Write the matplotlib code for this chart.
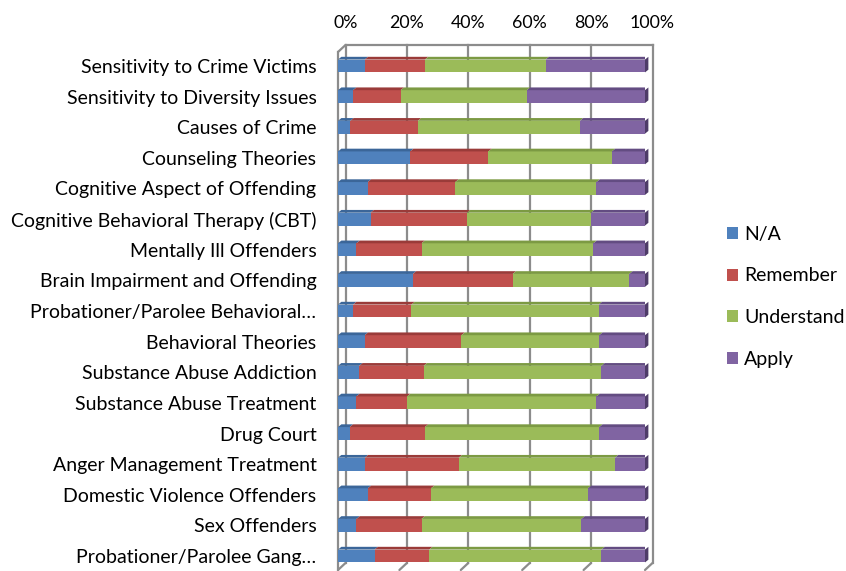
import matplotlib
matplotlib.use("Agg")
import matplotlib.pyplot as plt
from matplotlib.patches import Patch, Polygon
from matplotlib.transforms import offset_copy

plt.rcParams["font.family"] = ["Lato", "DejaVu Sans"]

# ---------------- Data ----------------
categories = [
    "Sensitivity to Crime Victims",
    "Sensitivity to Diversity Issues",
    "Causes of Crime",
    "Counseling Theories",
    "Cognitive Aspect of Offending",
    "Cognitive Behavioral Therapy (CBT)",
    "Mentally Ill Offenders",
    "Brain Impairment and Offending",
    "Probationer/Parolee Behavioral…",
    "Behavioral Theories",
    "Substance Abuse Addiction",
    "Substance Abuse Treatment",
    "Drug Court",
    "Anger Management Treatment",
    "Domestic Violence Offenders",
    "Sex Offenders",
    "Probationer/Parolee Gang…",
]
na = [8.7, 4.9, 4.0, 23.5, 9.7, 10.6, 6.0, 24.4, 4.9, 8.7, 6.9, 6.0, 3.8, 8.7, 9.7, 6.0, 11.9]
remember = [19.6, 15.5, 22.0, 25.5, 28.5, 31.4, 21.2, 32.5, 19.0, 31.5, 21.0, 16.5, 24.5, 30.6, 20.6, 21.2, 17.8]
understand = [39.3, 41.1, 52.8, 40.2, 46.0, 40.4, 56.0, 38.0, 61.0, 44.9, 57.9, 61.7, 56.8, 50.9, 51.1, 52.1, 56.1]
apply_ = [32.4, 38.5, 21.2, 10.8, 15.8, 17.6, 16.8, 5.1, 15.1, 14.9, 14.2, 15.8, 14.9, 9.8, 18.6, 20.7, 14.2]
ticks = [0, 20, 40, 60, 80, 100]

series = [
    ("N/A", na, "#4F81BD", "#3B6699"),
    ("Remember", remember, "#C0504D", "#9A3B39"),
    ("Understand", understand, "#9BBB59", "#7C9A43"),
    ("Apply", apply_, "#8064A2", "#634C82"),
]

# ---------------- Figure ----------------
W, H = 846, 571
fig = plt.figure(figsize=(W / 100, H / 100), dpi=100)
# front plane of the pseudo-3D plot area
ax = fig.add_axes([338 / W, 1 / H, 307 / W, 518 / H])
ax.set_xlim(0, 100)
ax.set_ylim(len(categories) - 0.543, -0.457)
for s in ax.spines.values():
    s.set_visible(False)
ax.set_xticks([])
ax.set_yticks(range(len(categories)))
ax.set_yticklabels(categories, fontsize=14, color="#000000")
ax.tick_params(axis="y", length=0, pad=15.5)

grid_c = "#8C8C8C"
back = offset_copy(ax.transData, fig=fig, x=7.5, y=7, units="dots")
y_top, y_bot = -0.457, len(categories) - 0.543

# back wall gridlines + floor ticks + left wall
for t in ticks:
    ax.plot([t, t], [y_bot, y_top], color=grid_c, lw=1.6, transform=back, zorder=1, clip_on=False)
ax.plot([0, 100], [y_top, y_top], color=grid_c, lw=1.6, transform=back, zorder=1, clip_on=False)
ax.plot([0, 0], [y_bot, y_top], color=grid_c, lw=1.6, zorder=1, clip_on=False)
for t in ticks:
    ax.annotate("", xy=(t, y_bot), xycoords=back, xytext=(t, y_bot), textcoords="data",
                arrowprops=dict(arrowstyle="-", color=grid_c, lw=1.6, shrinkA=0, shrinkB=0),
                annotation_clip=False)
ax.annotate("", xy=(0, y_top), xycoords=back, xytext=(0, y_top), textcoords="data",
            arrowprops=dict(arrowstyle="-", color=grid_c, lw=1.6, shrinkA=0, shrinkB=0),
            annotation_clip=False)

# top tick labels on the back wall
lab_tr = offset_copy(ax.transData, fig=fig, x=7.5, y=24, units="dots")
for t in ticks:
    ax.text(t, y_top, f"{t}%", transform=lab_tr, ha="center", va="baseline", fontsize=12.8)

# ---------------- Bars ----------------
bar_h = 0.42
ddx, ddy = 1.1, 0.09  # bar depth in data units
y = list(range(len(categories)))
lefts = [0.0] * len(categories)
for name, vals, col, dark in series:
    ax.barh(y, vals, left=lefts, height=bar_h, color=col, zorder=3)
    for i, v in enumerate(vals):
        x0, x1 = lefts[i], lefts[i] + v
        yt = i - bar_h / 2
        ax.add_patch(Polygon([(x0, yt), (x1, yt), (x1 + ddx, yt - ddy), (x0 + ddx, yt - ddy)],
                             closed=True, facecolor=dark, edgecolor="none", zorder=3))
        if name == "Apply":
            yb = i + bar_h / 2
            ax.add_patch(Polygon([(x1, yt), (x1 + ddx, yt - ddy), (x1 + ddx, yb - ddy), (x1, yb)],
                                 closed=True, facecolor="#4E3C68", edgecolor="none", zorder=3,
                                 clip_on=False))
    lefts = [l + v for l, v in zip(lefts, vals)]

# ---------------- Legend ----------------
handles = [Patch(facecolor=c, edgecolor="none", label=n) for n, _, c, _ in series]
fig.legend(handles=handles, loc="upper left", bbox_to_anchor=(719 / W, 1 - 218 / H),
           frameon=False, fontsize=14, handlelength=0.58, handleheight=0.58,
           handletextpad=0.3, labelspacing=1.27, borderaxespad=0)

fig.savefig("out.png", dpi=100, facecolor="white")
